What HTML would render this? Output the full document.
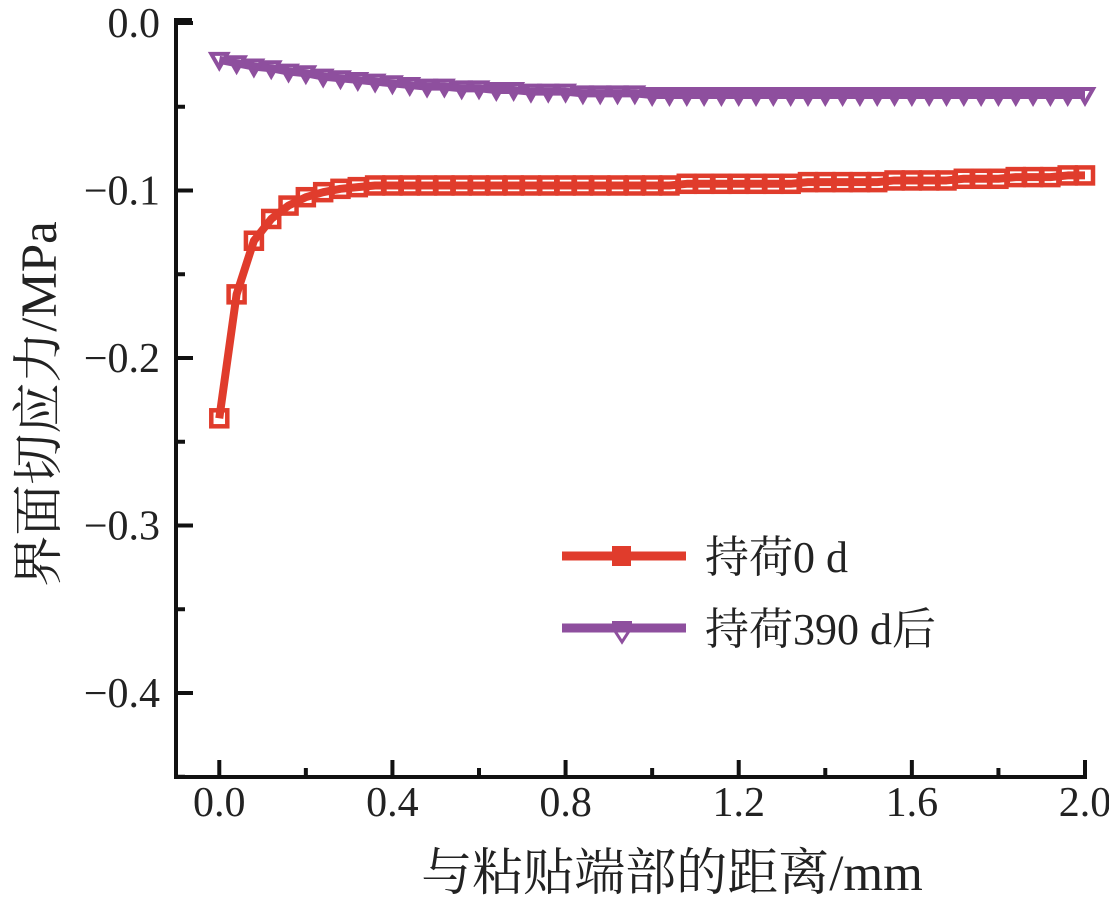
<!DOCTYPE html>
<html><head><meta charset="utf-8"><style>
body{margin:0;background:#fff;}
svg text{font-family:"Liberation Serif","Noto Serif CJK SC",serif;fill:#222;}
</style></head><body>
<svg id="chart" width="1109" height="908" xmlns="http://www.w3.org/2000/svg"></svg>
<script>
const xTicks=[0.0,0.4,0.8,1.2,1.6,2.0];
const xTickLabels=["0.0","0.4","0.8","1.2","1.6","2.0"];
const yTicks=[0.0,-0.1,-0.2,-0.3,-0.4];
const yTickLabels=["0.0","\u22120.1","\u22120.2","\u22120.3","\u22120.4"];
const xs=[0,0.04,0.08,0.12,0.16,0.2,0.24,0.28,0.32,0.36,0.4,0.44,0.48,0.52,0.56,0.6,0.64,0.68,0.72,0.76,0.8,0.84,0.88,0.92,0.96,1.0,1.04,1.08,1.12,1.16,1.2,1.24,1.28,1.32,1.36,1.4,1.44,1.48,1.52,1.56,1.6,1.64,1.68,1.72,1.76,1.8,1.84,1.88,1.92,1.96,2.0];
const series0d=[-0.236,-0.162,-0.130,-0.117,-0.109,-0.104,-0.101,-0.099,-0.098,-0.097,-0.097,-0.097,-0.097,-0.097,-0.097,-0.097,-0.097,-0.097,-0.097,-0.097,-0.097,-0.097,-0.097,-0.097,-0.097,-0.097,-0.097,-0.096,-0.096,-0.096,-0.096,-0.096,-0.096,-0.096,-0.095,-0.095,-0.095,-0.095,-0.095,-0.094,-0.094,-0.094,-0.094,-0.093,-0.093,-0.093,-0.092,-0.092,-0.092,-0.091,-0.091];
const series390d=[-0.022,-0.024,-0.026,-0.027,-0.029,-0.030,-0.032,-0.033,-0.034,-0.035,-0.036,-0.037,-0.038,-0.038,-0.039,-0.039,-0.040,-0.040,-0.041,-0.041,-0.041,-0.042,-0.042,-0.042,-0.042,-0.043,-0.043,-0.043,-0.043,-0.043,-0.043,-0.043,-0.043,-0.043,-0.043,-0.043,-0.043,-0.043,-0.043,-0.043,-0.043,-0.043,-0.043,-0.043,-0.043,-0.043,-0.043,-0.043,-0.043,-0.043,-0.043];
const NS="http://www.w3.org/2000/svg";
const svg=document.getElementById('chart');
const X=v=>176+(v+0.1)*(909/2.1);
const Y=v=>23-v*1675;
function el(t,a,p){const e=document.createElementNS(NS,t);for(const k in a)e.setAttribute(k,a[k]);(p||svg).appendChild(e);return e;}
let ax=el('path',{d:`M176,18 V777 H1087`,fill:'none',stroke:'#111','stroke-width':4});


el('line',{x1:176,y1:20,x2:192,y2:20,stroke:'#111','stroke-width':4});
yTicks.forEach((v,i)=>{
  const t=el('line',{x1:176,y1:Y(v),x2:193,y2:Y(v),stroke:'#111','stroke-width':4});
  
  
  el('line',{x1:176,y1:Y(v-0.05),x2:185,y2:Y(v-0.05),stroke:'#111','stroke-width':4});
  const l=el('text',{x:160,y:Y(v)+14,'text-anchor':'end','font-size':42});
  l.textContent=yTickLabels[i];
  
  
});
xTicks.forEach((v,i)=>{
  const t=el('line',{x1:X(v),y1:777,x2:X(v),y2:760,stroke:'#111','stroke-width':4});
  
  
  if(i<xTicks.length-1)el('line',{x1:X(v+0.2),y1:777,x2:X(v+0.2),y2:768,stroke:'#111','stroke-width':4});
  const l=el('text',{x:X(v),y:816,'text-anchor':'middle','font-size':42});
  l.textContent=xTickLabels[i];
  
  
});
const xt=el('text',{x:672,y:890,'text-anchor':'middle','font-size':51});
xt.textContent='与粘贴端部的距离/mm';


const yt=el('text',{x:0,y:0,'text-anchor':'middle','font-size':51,transform:'translate(56,404) rotate(-90)'});
yt.textContent='界面切应力/MPa';


function line(vals,color,name){
  const g=el('g',{});
  
  
  el('polyline',{points:xs.map((x,i)=>X(x)+','+Y(vals[i])).join(' '),fill:'none',stroke:color,'stroke-width':8,'stroke-linejoin':'round'},g);
  return g;
}
const g0=line(series0d,'#e03c2c','series-0d');
xs.forEach((x,i)=>{
  const m=el('rect',{x:X(x)-8,y:Y(series0d[i])-8,width:16,height:16,fill:'none',stroke:'#e03c2c','stroke-width':4.5},g0);
  
  
});
const g1=line(series390d,'#8e4f9e','series-390d');
xs.forEach((x,i)=>{
  const cx=X(x),cy=Y(series390d[i]);
  const m=el('path',{d:`M${cx-8},${cy-6} L${cx+8},${cy-6} L${cx},${cy+8} Z`,fill:'none',stroke:'#8e4f9e','stroke-width':4},g1);
  
  
});
function leg(y,color,label,marker,name){
  const g=el('g',{});
  
  
  el('line',{x1:562,y1:y,x2:686,y2:y,stroke:color,'stroke-width':9},g);
  if(marker==='sq')el('rect',{x:612,y:y-10,width:19,height:20,fill:color},g);
  else{el('rect',{x:612,y:y-7,width:20,height:8,fill:color},g);el('path',{d:`M613,${y} L631,${y} L622,${y+14} Z`,fill:'none',stroke:color,'stroke-width':3},g);}
  const t=el('text',{x:705,y:y+16,'font-size':44},g);t.textContent=label;
}
leg(556,'#e03c2c','持荷0 d','sq','legend-entry-0d');
leg(628,'#8e4f9e','持荷390 d后','tri','legend-entry-390d');
</script>
</body></html>
